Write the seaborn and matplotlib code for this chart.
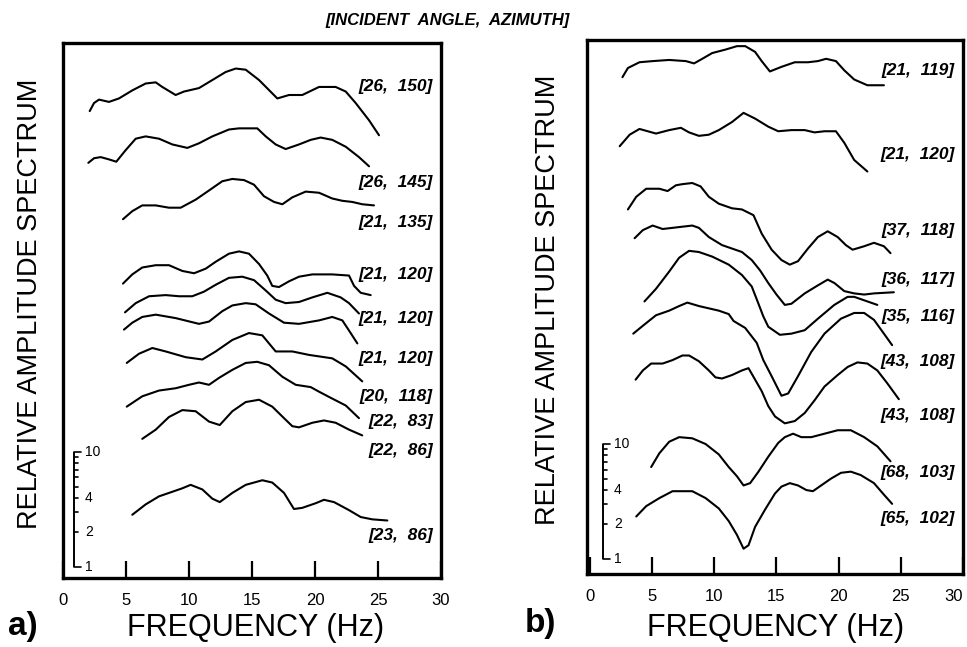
import matplotlib
matplotlib.use("Agg")
import numpy as np
import pandas as pd
import seaborn as sns
import matplotlib.pyplot as plt
from matplotlib import font_manager as fm

# ---------------- data (frequency in Hz, amplitude in log10 units, stacked) ----------------
# panel a)
a1_f = [2.12, 2.46, 2.86, 3.65, 4.44, 5.50, 6.56, 7.36, 7.88, 8.94, 9.60, 10.79, 11.85, 12.91, 13.71, 14.50, 15.56, 17.01, 17.94, 18.99, 20.32, 21.64, 22.44, 23.23, 24.29, 25.08]
a1_y = [4.06, 4.13, 4.16, 4.14, 4.17, 4.24, 4.30, 4.31, 4.27, 4.20, 4.23, 4.26, 4.33, 4.40, 4.43, 4.42, 4.33, 4.17, 4.20, 4.20, 4.27, 4.27, 4.23, 4.13, 3.98, 3.85]
a2_f = [2.01, 2.46, 2.99, 3.65, 4.23, 4.97, 5.77, 6.56, 7.62, 8.68, 9.87, 10.79, 11.85, 13.17, 13.97, 15.42, 16.09, 16.88, 17.67, 18.73, 19.66, 20.45, 21.37, 22.44, 23.49, 24.29]
a2_y = [3.61, 3.65, 3.66, 3.64, 3.62, 3.72, 3.82, 3.84, 3.82, 3.77, 3.74, 3.78, 3.84, 3.90, 3.91, 3.91, 3.84, 3.77, 3.73, 3.77, 3.81, 3.83, 3.81, 3.75, 3.66, 3.58]
a3_f = [4.76, 5.50, 6.29, 7.36, 8.41, 9.34, 10.53, 11.59, 12.64, 13.44, 14.37, 15.16, 15.95, 16.75, 17.41, 18.20, 19.26, 20.32, 21.37, 22.17, 22.96, 23.75, 24.68]
a3_y = [3.12, 3.19, 3.24, 3.24, 3.22, 3.22, 3.29, 3.37, 3.45, 3.47, 3.46, 3.42, 3.32, 3.27, 3.25, 3.31, 3.36, 3.35, 3.30, 3.28, 3.27, 3.25, 3.24]
a4_f = [4.76, 5.50, 6.29, 7.36, 8.41, 9.47, 10.40, 11.33, 12.12, 13.17, 13.97, 14.76, 15.56, 16.21, 16.61, 17.14, 17.94, 18.73, 19.79, 21.37, 22.70, 23.10, 23.63, 24.42]
a4_y = [2.56, 2.64, 2.70, 2.72, 2.72, 2.67, 2.65, 2.69, 2.75, 2.82, 2.84, 2.82, 2.73, 2.63, 2.54, 2.53, 2.58, 2.62, 2.64, 2.64, 2.63, 2.54, 2.48, 2.46]
a5_f = [4.92, 5.77, 6.83, 8.15, 9.21, 10.26, 11.19, 12.12, 13.17, 14.23, 15.16, 16.09, 16.88, 17.67, 18.73, 19.79, 20.98, 22.04, 22.70, 23.49]
a5_y = [2.31, 2.39, 2.45, 2.46, 2.45, 2.45, 2.49, 2.55, 2.61, 2.62, 2.59, 2.50, 2.42, 2.39, 2.40, 2.44, 2.48, 2.44, 2.39, 2.30]
a6_f = [4.84, 5.50, 6.29, 7.36, 8.94, 10.79, 11.59, 12.64, 13.44, 14.50, 15.29, 16.35, 17.54, 18.73, 20.32, 21.37, 22.17, 22.83, 23.36]
a6_y = [2.16, 2.22, 2.27, 2.29, 2.26, 2.21, 2.23, 2.32, 2.37, 2.39, 2.38, 2.30, 2.22, 2.21, 2.24, 2.27, 2.24, 2.13, 2.04]
a7_f = [5.06, 6.03, 7.09, 8.15, 9.74, 11.06, 12.12, 13.44, 14.76, 15.82, 16.35, 16.88, 18.20, 19.52, 21.37, 22.44, 23.75]
a7_y = [1.87, 1.95, 2.00, 1.97, 1.92, 1.90, 1.97, 2.07, 2.13, 2.11, 2.04, 1.97, 1.97, 1.94, 1.91, 1.84, 1.71]
a8_f = [5.06, 6.29, 7.62, 8.94, 10.00, 10.79, 11.59, 12.38, 13.44, 14.50, 15.42, 16.35, 17.41, 18.47, 19.66, 20.32, 21.37, 22.44, 23.49]
a8_y = [1.49, 1.58, 1.63, 1.65, 1.68, 1.70, 1.68, 1.74, 1.81, 1.87, 1.88, 1.85, 1.75, 1.68, 1.66, 1.62, 1.56, 1.50, 1.39]
a9_f = [6.29, 7.36, 8.41, 9.47, 10.53, 11.59, 12.44, 13.44, 14.50, 15.56, 16.61, 17.54, 18.20, 18.73, 19.79, 20.71, 21.64, 22.70, 23.75]
a9_y = [1.21, 1.29, 1.40, 1.46, 1.45, 1.36, 1.33, 1.45, 1.53, 1.55, 1.49, 1.39, 1.32, 1.31, 1.35, 1.37, 1.35, 1.29, 1.24]
a10_f = [5.50, 6.56, 7.62, 8.68, 9.47, 10.13, 11.06, 11.85, 12.44, 13.44, 14.50, 15.82, 16.61, 17.54, 18.33, 18.99, 20.05, 20.71, 21.51, 22.70, 23.63, 24.55, 25.74]
a10_y = [0.55, 0.64, 0.71, 0.75, 0.78, 0.81, 0.77, 0.69, 0.66, 0.74, 0.81, 0.85, 0.83, 0.74, 0.60, 0.61, 0.65, 0.68, 0.66, 0.59, 0.53, 0.51, 0.50]
labels_a = ["[26,  150]", "[26,  145]", "[21,  135]", "[21,  120]", "[21,  120]",
            "[21,  120]", "[20,  118]", "[22,  83]", "[22,  86]", "[23,  86]"]
label_ypos_a = [4.27, 3.44, 3.09, 2.64, 2.26, 1.91, 1.58, 1.36, 1.11, 0.37]

# panel b)
b1_f = [2.61, 3.05, 3.98, 5.04, 6.37, 7.71, 8.37, 9.03, 9.83, 10.89, 11.82, 12.49, 13.28, 13.81, 14.47, 15.40, 16.47, 17.53, 18.33, 18.99, 19.78, 20.45, 21.25, 22.31, 23.64]
b1_y = [4.32, 4.40, 4.45, 4.46, 4.47, 4.46, 4.44, 4.48, 4.53, 4.56, 4.59, 4.59, 4.54, 4.46, 4.37, 4.41, 4.45, 4.45, 4.46, 4.48, 4.46, 4.38, 4.30, 4.25, 4.25]
b2_f = [2.39, 3.19, 3.98, 5.31, 6.37, 7.31, 7.97, 8.76, 9.56, 10.36, 11.42, 12.35, 13.28, 14.34, 15.14, 16.20, 17.27, 18.06, 18.86, 19.78, 20.45, 21.25, 22.31]
b2_y = [3.72, 3.82, 3.87, 3.83, 3.86, 3.88, 3.84, 3.81, 3.82, 3.86, 3.93, 4.01, 3.96, 3.89, 3.85, 3.86, 3.86, 3.84, 3.85, 3.85, 3.75, 3.60, 3.50]
b3_f = [3.05, 3.72, 4.52, 5.58, 6.24, 6.91, 7.43, 8.23, 8.90, 9.56, 10.36, 11.42, 12.22, 13.15, 13.81, 14.61, 15.40, 16.07, 16.73, 17.53, 18.33, 19.12, 19.92, 20.58, 21.12, 22.05, 22.84, 23.64, 24.17]
b3_y = [3.17, 3.28, 3.35, 3.35, 3.33, 3.38, 3.39, 3.40, 3.37, 3.28, 3.22, 3.18, 3.17, 3.12, 2.96, 2.82, 2.73, 2.69, 2.72, 2.83, 2.93, 2.98, 2.93, 2.86, 2.82, 2.85, 2.88, 2.85, 2.79]
b4_f = [3.59, 4.25, 5.04, 5.84, 6.64, 7.43, 8.23, 8.76, 9.56, 10.62, 11.42, 12.22, 13.01, 13.68, 14.34, 15.00, 15.67, 16.20, 17.27, 18.33, 19.12, 19.66, 20.45, 21.25, 22.05, 22.84, 24.44]
b4_y = [2.92, 2.99, 3.03, 3.00, 3.01, 3.02, 3.03, 3.01, 2.93, 2.86, 2.83, 2.80, 2.73, 2.64, 2.53, 2.43, 2.34, 2.35, 2.44, 2.51, 2.56, 2.53, 2.46, 2.44, 2.43, 2.44, 2.45]
b5_f = [4.38, 5.31, 6.37, 7.17, 7.97, 8.76, 9.83, 11.16, 12.22, 13.01, 13.55, 13.94, 14.34, 15.27, 16.20, 17.27, 18.33, 19.65, 20.72, 21.25, 22.05, 23.11]
b5_y = [2.37, 2.48, 2.63, 2.75, 2.81, 2.80, 2.76, 2.69, 2.60, 2.50, 2.35, 2.24, 2.15, 2.08, 2.09, 2.12, 2.22, 2.34, 2.41, 2.41, 2.38, 2.34]
b6_f = [3.48, 4.27, 5.31, 6.37, 7.17, 7.83, 8.76, 9.56, 10.36, 11.16, 11.55, 12.48, 13.41, 13.94, 14.61, 15.40, 15.94, 16.73, 17.79, 18.86, 20.18, 21.25, 22.05, 22.84, 23.64, 24.30]
b6_y = [2.09, 2.16, 2.25, 2.29, 2.33, 2.36, 2.33, 2.31, 2.29, 2.26, 2.20, 2.14, 2.01, 1.86, 1.72, 1.55, 1.57, 1.72, 1.93, 2.09, 2.22, 2.27, 2.27, 2.21, 2.09, 1.99]
b7_f = [3.67, 4.25, 4.92, 5.84, 6.64, 7.43, 7.97, 8.76, 9.56, 10.09, 10.62, 11.42, 12.22, 12.75, 13.28, 13.81, 14.34, 14.88, 15.67, 16.47, 17.27, 18.06, 18.86, 19.92, 20.72, 21.51, 22.31, 23.11, 23.90, 24.84]
b7_y = [1.69, 1.77, 1.83, 1.83, 1.86, 1.90, 1.90, 1.85, 1.77, 1.71, 1.70, 1.73, 1.77, 1.79, 1.69, 1.59, 1.46, 1.37, 1.31, 1.33, 1.40, 1.51, 1.63, 1.73, 1.80, 1.84, 1.83, 1.77, 1.66, 1.52]
b8_f = [4.92, 5.58, 6.37, 7.17, 8.23, 9.30, 10.36, 11.16, 11.82, 12.35, 12.88, 13.55, 14.34, 15.14, 15.67, 16.33, 17.00, 17.80, 18.86, 19.92, 20.98, 22.05, 23.11, 24.17]
b8_y = [0.93, 1.05, 1.15, 1.19, 1.18, 1.13, 1.04, 0.93, 0.85, 0.77, 0.79, 0.89, 1.02, 1.14, 1.19, 1.22, 1.19, 1.19, 1.22, 1.25, 1.25, 1.19, 1.11, 0.98]
b9_f = [3.72, 4.52, 5.58, 6.64, 7.43, 8.23, 9.30, 10.36, 11.16, 11.82, 12.35, 12.75, 13.28, 14.08, 14.88, 15.40, 16.07, 16.73, 17.40, 17.93, 18.59, 19.39, 20.19, 20.98, 21.78, 22.84, 23.64, 24.30]
b9_y = [0.50, 0.59, 0.66, 0.72, 0.72, 0.72, 0.66, 0.57, 0.46, 0.34, 0.22, 0.25, 0.41, 0.56, 0.70, 0.76, 0.79, 0.77, 0.73, 0.72, 0.77, 0.83, 0.88, 0.89, 0.86, 0.79, 0.69, 0.61]
labels_b = ["[21,  119]", "[21,  120]", "[37,  118]", "[36,  117]", "[35,  116]",
            "[43,  108]", "[43,  108]", "[68,  103]", "[65,  102]"]
label_ypos_b = [4.38, 3.65, 2.99, 2.56, 2.24, 1.85, 1.38, 0.88, 0.48]

freq_ticks = [0, 5, 10, 15, 20, 25, 30]
scale_major = [1, 2, 4, 10]
scale_minor = [3, 5, 6, 7, 8, 9]

# ---------------- styling ----------------
sns.set_theme(style="white")
plt.rcParams["font.family"] = ["Liberation Sans", "DejaVu Sans"]
plt.rcParams["text.color"] = "black"
plt.rcParams["axes.labelcolor"] = "black"
plt.rcParams["xtick.color"] = "black"
plt.rcParams["ytick.color"] = "black"

names = {f.name for f in fm.fontManager.ttflist}
has_narrow = "Liberation Sans Narrow" in names
ylab_family = ["Liberation Sans Narrow", "Liberation Sans", "DejaVu Sans"] if has_narrow else ["Liberation Sans", "DejaVu Sans"]
ylab_size = 23 if has_narrow else 19.5

W, H = 967, 647
fig = plt.figure(figsize=(W / 100, H / 100), dpi=100)
fig.patch.set_facecolor("white")


def add_axes_px(left, right, top, bottom):
    return fig.add_axes([left / W, 1 - bottom / H, (right - left) / W, (bottom - top) / H])


axA = add_axes_px(63, 441, 43, 578)
axB = add_axes_px(587, 963, 40, 574)
axA.set_xlim(0, 30)
axA.set_ylim(0, 535 / 115)
axB.set_xlim(-0.24, 29.72)
axB.set_ylim(0, 534 / 115)

curves_a = [(a1_f, a1_y), (a2_f, a2_y), (a3_f, a3_y), (a4_f, a4_y), (a5_f, a5_y),
            (a6_f, a6_y), (a7_f, a7_y), (a8_f, a8_y), (a9_f, a9_y), (a10_f, a10_y)]
curves_b = [(b1_f, b1_y), (b2_f, b2_y), (b3_f, b3_y), (b4_f, b4_y), (b5_f, b5_y),
            (b6_f, b6_y), (b7_f, b7_y), (b8_f, b8_y), (b9_f, b9_y)]


def draw_panel(ax, curves, labels, label_y, label_x, scale_x, scale_y0, px_per_hz, last_right):
    for f, y in curves:
        df = pd.DataFrame({"freq": f, "amp": y})
        sns.lineplot(data=df, x="freq", y="amp", ax=ax, color="black", lw=1.5,
                     sort=False, estimator=None)
    for lab, ly in zip(labels, label_y):
        ax.text(label_x, ly, lab, ha="right", va="center", fontsize=12.5,
                fontweight="bold", fontstyle="italic", color="black")
    # log amplitude scale bar
    ax.plot([scale_x, scale_x], [scale_y0, scale_y0 + 1], color="black", lw=1.4,
            solid_capstyle="butt")
    tick_small = 4 / px_per_hz
    tick_end = 7 / px_per_hz
    for v in scale_major + scale_minor:
        yy = scale_y0 + np.log10(v)
        ln = tick_end if v in (1, 10) else tick_small
        ax.plot([scale_x, scale_x + ln], [yy, yy], color="black", lw=1.2)
    for v in scale_major:
        yy = scale_y0 + np.log10(v)
        ax.text(scale_x + 11 / px_per_hz, yy, str(v), ha="left", va="center",
                fontsize=10, color="black")
    ax.set_xticks(freq_ticks)
    ax.set_xticklabels([str(t) for t in freq_ticks])
    ax.set_yticks([])
    ax.tick_params(axis="x", direction="in", length=12, width=1.6, pad=11,
                   labelsize=12, bottom=True, colors="black")
    if last_right:
        ax.get_xticklabels()[-1].set_horizontalalignment("right")
    ax.set_xlabel("")
    ax.set_ylabel("")
    for side, sp in ax.spines.items():
        sp.set_visible(True)
        sp.set_color("black")
        sp.set_linewidth(2.4)
    ax.set_facecolor("white")


draw_panel(axA, curves_a, labels_a, label_ypos_a, 29.35, 0.87, 0.096, 12.6, False)
draw_panel(axB, curves_b, labels_b, label_ypos_b, 29.3, 1.04, 0.13, 12.55, True)

# axis titles and panel letters
fig.text(256 / W, 1 - 628 / H, "FREQUENCY (Hz)", ha="center", va="center", fontsize=22)
fig.text(776 / W, 1 - 628 / H, "FREQUENCY (Hz)", ha="center", va="center", fontsize=22)
fig.text(30 / W, 1 - 304 / H, "RELATIVE AMPLITUDE SPECTRUM", rotation=90, ha="center",
         va="center", fontsize=ylab_size, family=ylab_family)
fig.text(548 / W, 1 - 300 / H, "RELATIVE AMPLITUDE SPECTRUM", rotation=90, ha="center",
         va="center", fontsize=ylab_size, family=ylab_family)
fig.text(8 / W, 1 - 635 / H, "a)", ha="left", va="baseline", fontsize=24, fontweight="bold")
fig.text(525 / W, 1 - 632 / H, "b)", ha="left", va="baseline", fontsize=24, fontweight="bold")
fig.text(448 / W, 1 - 20 / H, "[INCIDENT  ANGLE,  AZIMUTH]", ha="center", va="center",
         fontsize=12, fontweight="bold", fontstyle="italic")

fig.savefig("out.png", dpi=100, facecolor="white")
